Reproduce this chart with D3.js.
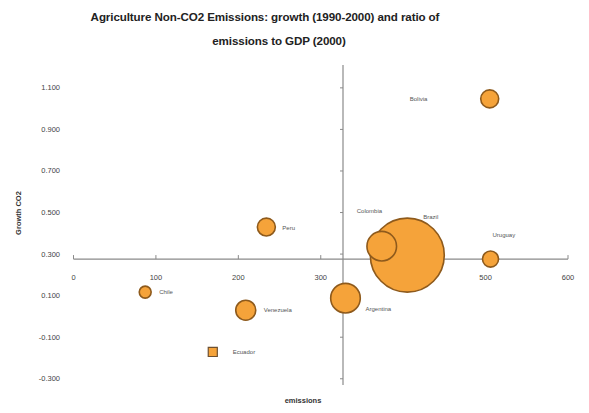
<!DOCTYPE html>
<html><head><meta charset="utf-8">
<script src="https://cdn.jsdelivr.net/npm/d3@7"></script>
<style>body{margin:0;background:#fff;} svg{display:block;}</style>
</head><body>
<svg id="c" width="589" height="413"></svg>
<script>
const countries = ["Bolivia","Peru","Brazil","Colombia","Uruguay","Chile","Venezuela","Ecuador","Argentina"];
const ratio =     [505, 234, 405, 374, 506, 87, 209, 169, 330];
const growth =    [1.047, 0.43, 0.295, 0.338, 0.276, 0.117, 0.03, -0.171, 0.088];
const sizes =     [5.9, 5.9, 100, 16, 4.7, 2.6, 7.3, 1.5, 16];
const xTicks = [0,100,200,300,400,500,600];
const yTicks = [-0.3,-0.1,0.1,0.3,0.5,0.7,0.9,1.1];
const xCross = 327, yCross = 0.276;
const titleLines = ["Agriculture Non-CO2 Emissions: growth (1990-2000) and ratio of","emissions to GDP (2000)"];
const yTitle = "Growth CO2", xTitle = "emissions";

const svg = d3.select("#c");
const x = d3.scaleLinear().domain([0,600]).range([73.5,568]);
const y = d3.scaleLinear().domain([-0.33,1.21]).range([385,65]);
const r = d3.scaleSqrt().domain([0,100]).range([0,37]);
const font = "Arial, 'Liberation Sans', sans-serif";
const axisCol = "#8a8a8a";
const fmtY = v => d3.format(".3f")(v).replace("\u2212","-");

// title
svg.append("text").attr("x",265).attr("y",21).attr("text-anchor","middle")
  .attr("font-family",font).attr("font-weight","bold").attr("font-size",11.6)
  .attr("letter-spacing","-0.1").attr("fill","#222").text(titleLines[0]);
svg.append("text").attr("x",279).attr("y",45).attr("text-anchor","middle")
  .attr("font-family",font).attr("font-weight","bold").attr("font-size",11.6)
  .attr("letter-spacing","-0.1").attr("fill","#222").text(titleLines[1]);

// horizontal axis at yCross
const gx = svg.append("g").attr("transform",`translate(0,${y(yCross)})`);
gx.append("line").attr("x1",x(0)).attr("x2",x(600)).attr("stroke",axisCol).attr("stroke-width",1.2);
gx.selectAll("line.t").data(xTicks).join("line").attr("class","t")
  .attr("x1",d=>x(d)).attr("x2",d=>x(d)).attr("y1",0).attr("y2",-4).attr("stroke",axisCol);
gx.selectAll("text").data(xTicks).join("text")
  .attr("x",d=>x(d)).attr("y",21).attr("text-anchor","middle")
  .attr("font-family",font).attr("font-size",7.5).attr("fill","#444").text(d=>d);

// vertical axis at xCross
const gy = svg.append("g").attr("transform",`translate(${x(xCross)},0)`);
gy.append("line").attr("y1",y(-0.33)).attr("y2",y(1.21)).attr("stroke",axisCol).attr("stroke-width",1.2);
gy.selectAll("line.t").data(yTicks).join("line").attr("class","t")
  .attr("y1",d=>y(d)).attr("y2",d=>y(d)).attr("x1",0).attr("x2",-3).attr("stroke",axisCol);
svg.selectAll("text.yl").data(yTicks).join("text").attr("class","yl")
  .attr("x",60).attr("y",d=>y(d)+2.5).attr("text-anchor","end")
  .attr("font-family",font).attr("font-size",7.5).attr("fill","#444").text(fmtY);

// axis titles
svg.append("text").attr("transform",`translate(21,${213}) rotate(-90)`).attr("text-anchor","middle")
  .attr("font-family",font).attr("font-weight","bold").attr("font-size",7.5).attr("fill","#333").text(yTitle);
svg.append("text").attr("x",303).attr("y",403).attr("text-anchor","middle")
  .attr("font-family",font).attr("font-weight","bold").attr("font-size",7.5).attr("fill","#333").text(xTitle);

// bubbles
const data = countries.map((c,i)=>({c, x:ratio[i], y:growth[i], s:sizes[i]}));
const order = [2,3,0,1,4,5,6,8,7];
const fill = "#F5A33A", stroke = "#8E5A1C";
order.forEach(i=>{
  const d = data[i];
  if (d.c === "Ecuador") {
    const side = 2*r(d.s);
    svg.append("path").attr("d", d3.symbol(d3.symbolSquare, side*side)())
      .attr("transform",`translate(${x(d.x)},${y(d.y)})`)
      .attr("fill",fill).attr("stroke","#6e5030").attr("stroke-width",1.2);
  } else {
    svg.append("circle").attr("cx",x(d.x)).attr("cy",y(d.y)).attr("r",r(d.s))
      .attr("fill",fill).attr("stroke",stroke).attr("stroke-width",1.6);
  }
});

// labels
const labelPos = {Bolivia:[-80,2,"start"],Peru:[16,3,"start"],Brazil:[16,-36,"start"],Colombia:[-25,-33,"start"],
  Uruguay:[2,-22,"start"],Chile:[14,2,"start"],Venezuela:[18,2,"start"],Ecuador:[20,2,"start"],Argentina:[20,13,"start"]};
data.forEach(d=>{
  const p = labelPos[d.c];
  svg.append("text").attr("x",x(d.x)+p[0]).attr("y",y(d.y)+p[1]).attr("text-anchor",p[2])
    .attr("font-family",font).attr("font-size",6).attr("fill","#555").text(d.c);
});
</script>
</body></html>
